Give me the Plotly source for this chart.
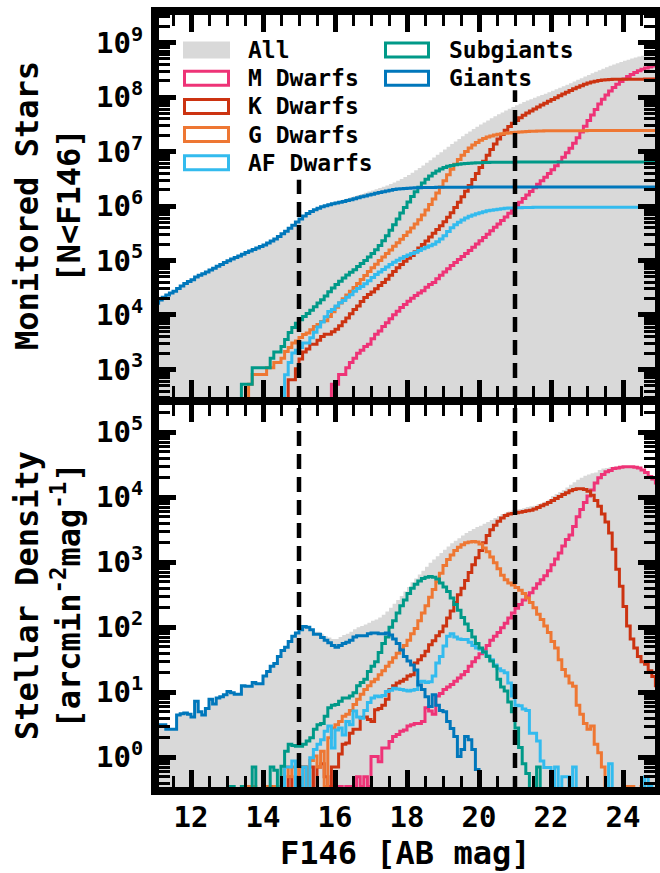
import numpy as np
import plotly.graph_objects as go

# ---------------- data ----------------
BIN_START = 11.0          # first F146 bin edge [AB mag]
BIN_WIDTH = 0.1           # bin width [mag]
N_BINS = 140              # 11.0 ... 25.0
AREA_ARCMIN2 = 7540.0     # survey area used to turn density into star counts
N_BRIGHTER = 1.4e4        # monitored stars brighter than F146 = 11 (all giants)

x_tick_vals = [12, 14, 16, 18, 20, 22, 24]
top_tick_exps = [3, 4, 5, 6, 7, 8, 9]
bot_tick_exps = [0, 1, 2, 3, 4, 5]
mag_cuts = [15, 21]

# log10 stellar density [arcmin^-2 mag^-1] per 0.1-mag bin, None = empty bin
all_start = 11.0
all_log = [
    0.50, 0.50, 0.50, 0.43, 0.43, 0.43, 0.65, 0.67, 0.68, 0.66,
    0.62, 0.86, 0.70, 0.65, 0.75, 0.89, 0.82, 0.91, 0.93, 0.96,
    1.01, 0.99, 0.97, 0.97, 1.10, 1.09, 1.09, 1.15, 1.13, 1.13,
    1.25, 1.32, 1.40, 1.44, 1.55, 1.65, 1.70, 1.79, 1.88, 1.93,
    1.97, 2.02, 2.01, 1.98, 1.93, 1.93, 1.89, 1.86, 1.84, 1.82,
    1.82, 1.85, 1.88, 1.90, 1.93, 1.97, 2.00, 2.02, 2.04, 2.07,
    2.10, 2.12, 2.15, 2.19, 2.24, 2.30, 2.36, 2.42, 2.48, 2.55,
    2.62, 2.69, 2.75, 2.81, 2.87, 2.93, 2.99, 3.04, 3.09, 3.14,
    3.19, 3.24, 3.29, 3.33, 3.37, 3.41, 3.45, 3.48, 3.51, 3.54,
    3.56, 3.59, 3.62, 3.65, 3.68, 3.71, 3.74, 3.76, 3.78, 3.80,
    3.81, 3.82, 3.83, 3.85, 3.86, 3.87, 3.89, 3.91, 3.93, 3.96,
    4.02, 4.05, 4.08, 4.11, 4.15, 4.19, 4.23, 4.27, 4.30, 4.33,
    4.35, 4.37, 4.38, 4.42, 4.44, 4.45, 4.46, 4.47, 4.47, 4.47,
    4.48, 4.48, 4.48, 4.47, 4.46, 4.43, 4.39, 4.33, 4.29, 4.23,
]

m_start = 15.8
m_log = [
    -0.45, -0.45,
    None, -0.45, None, -0.45, -0.45, -0.45, -0.30, -0.45, -0.30, -0.45,
    0.01, 0.01, -0.07, 0.14, 0.14, 0.24, 0.32, 0.35, 0.40, 0.42,
    0.48, 0.50, 0.52, 0.52, 0.55, 0.76, 0.71, 0.66, 0.94, 0.98,
    1.04, 1.08, 1.12, 1.17, 1.22, 1.27, 1.32, 1.40, 1.47, 1.53,
    1.59, 1.65, 1.72, 1.80, 1.86, 1.92, 1.99, 2.06, 2.14, 2.22,
    2.29, 2.35, 2.42, 2.48, 2.53, 2.60, 2.67, 2.73, 2.79, 2.87,
    2.96, 3.05, 3.14, 3.25, 3.35, 3.42, 3.55, 3.70, 3.81, 3.92,
    4.02, 4.11, 4.22, 4.30, 4.35, 4.39, 4.41, 4.44, 4.45, 4.46,
    4.47, 4.47, 4.47, 4.46, 4.45, 4.42, 4.38, 4.32, 4.28, 4.22,
]

k_start = 14.2
k_log = [
    -0.45, None, None, None, None, -0.30, None, -0.30,
    -0.15, -0.15, -0.45, -0.15, None, -0.15, -0.10, -0.30, None, -0.15,
    -0.15, 0.05, 0.20, 0.22, 0.37, 0.43, 0.43, 0.61, 0.62, 0.58,
    0.55, 0.73, 0.75, 0.80, 0.89, 1.04, 1.10, 1.14, 1.17, 1.20,
    1.25, 1.27, 1.45, 1.50, 1.56, 1.63, 1.73, 1.79, 1.87, 1.93,
    2.02, 2.14, 2.25, 2.38, 2.50, 2.60, 2.72, 2.84, 2.96, 3.07,
    3.18, 3.30, 3.41, 3.50, 3.57, 3.63, 3.68, 3.72, 3.74, 3.75,
    3.76, 3.77, 3.78, 3.79, 3.80, 3.82, 3.84, 3.87, 3.89, 3.92,
    3.95, 3.98, 4.01, 4.04, 4.07, 4.10, 4.12, 4.13, 4.13, 4.12,
    4.09, 4.03, 3.95, 3.86, 3.74, 3.62, 3.45, 3.20, 2.89, 2.63,
    2.32, 2.02, 1.82, 1.68, 1.55, 1.47, 1.43, 1.33, 1.24, 1.10,
]

g_start = 13.4
g_log = [
    -0.45, None, -0.45, -0.45, None, None,
    None, -0.45, None, -0.45, None, -0.45, -0.15, -0.30, -0.15, -0.45,
    -0.15, -0.15, -0.45, -0.05, 0.02, -0.15, 0.09, -0.45, 0.30, 0.45,
    0.50, 0.55, 0.63, 0.66, 0.72, 0.81, 0.89, 0.97, 1.04, 1.10,
    1.16, 1.20, 1.27, 1.33, 1.40, 1.46, 1.53, 1.60, 1.66, 1.72,
    1.80, 1.90, 1.98, 2.10, 2.22, 2.33, 2.46, 2.58, 2.70, 2.83,
    2.95, 3.04, 3.11, 3.18, 3.23, 3.27, 3.30, 3.31, 3.32, 3.31,
    3.28, 3.22, 3.16, 3.08, 2.99, 2.90, 2.80, 2.73, 2.68, 2.65,
    2.61, 2.57, 2.52, 2.45, 2.38, 2.30, 2.20, 2.12, 2.02, 1.92,
    1.78, 1.68, 1.50, 1.35, 1.25, 1.14, 1.09, 0.80, 0.66, 0.52,
    0.43, 0.48, 0.20, 0.07, -0.15, None, None, None, None, None,
    -0.45, -0.45, -0.45, None, None, -0.45,
]

af_start = 14.5
af_log = [
    -0.45, -0.15, -0.15, -0.06, -0.45,
    -0.45, -0.15, None, -0.01, 0.12, 0.20, 0.27, 0.40, 0.48, 0.14,
    0.42, 0.45, 0.34, 0.55, 0.50, 0.71, 0.62, 0.60, 0.72, 0.84,
    0.91, 0.94, 0.93, 0.95, 1.01, 1.03, 1.06, 1.05, 1.04, 1.03,
    1.02, 1.03, 1.04, 1.16, 1.17, 1.15, 1.16, 1.25, 1.45, 1.55,
    1.71, 1.86, 1.90, 1.85, 1.82, 1.81, 1.81, 1.77, 1.72, 1.68,
    1.66, 1.62, 1.56, 1.50, 1.42, 1.36, 1.33, 1.30, 1.14, 0.94,
    0.80, 0.79, 0.74, 0.72, 0.37, 0.37, 0.25, -0.06, -0.16, -0.16,
    None, -0.15, None, -0.30, -0.30, None, -0.15, None, None, None,
    None, None, None, None, None, None, -0.10, None, None, None,
    None, None, None, None, None, None, -0.30, -0.45,
]

subgiants_start = 13.1
subgiants_log = [
    -0.45, None, None, -0.45, None, None, -0.15, None, None,
    None, None, -0.15, -0.20, None, -0.14, 0.09, 0.20, 0.18, 0.17,
    0.17, 0.20, 0.25, 0.30, 0.43, 0.50, 0.52, 0.63, 0.76, 0.80,
    0.81, 0.86, 0.91, 0.91, 0.94, 0.99, 1.10, 1.15, 1.20, 1.32,
    1.40, 1.47, 1.61, 1.75, 1.85, 2.00, 2.10, 2.22, 2.33, 2.42,
    2.52, 2.60, 2.66, 2.71, 2.75, 2.77, 2.78, 2.77, 2.74, 2.68,
    2.62, 2.55, 2.45, 2.35, 2.26, 2.15, 2.05, 1.95, 1.85, 1.75,
    1.68, 1.62, 1.55, 1.48, 1.40, 1.20, 1.08, 1.02, 0.85, 0.70,
    0.45, 0.15, -0.10, -0.25, None, None, -0.15,
]

giants_start = 11.0
giants_log = [
    0.50, 0.50, 0.50, 0.43, 0.43, 0.43, 0.65, 0.67, 0.68, 0.66,
    0.62, 0.86, 0.70, 0.65, 0.75, 0.89, 0.82, 0.91, 0.93, 0.96,
    1.01, 0.99, 0.97, 0.97, 1.10, 1.09, 1.09, 1.15, 1.13, 1.13,
    1.25, 1.32, 1.40, 1.44, 1.55, 1.64, 1.69, 1.78, 1.86, 1.91,
    1.96, 2.01, 2.00, 1.96, 1.89, 1.89, 1.84, 1.80, 1.76, 1.72,
    1.69, 1.72, 1.75, 1.77, 1.80, 1.85, 1.87, 1.87, 1.87, 1.90,
    1.91, 1.91, 1.90, 1.90, 1.91, 1.88, 1.82, 1.75, 1.65, 1.55,
    1.48, 1.42, 1.34, 1.11, 1.04, 0.93, 0.78, 0.96, 0.80, 0.72,
    0.70, 0.55, 0.44, 0.32, 0.01, 0.12, 0.32, 0.27, 0.12, -0.19,
]

line_series = [
    ("M Dwarfs", m_start, m_log, "#EE3377", 0.0),
    ("K Dwarfs", k_start, k_log, "#CC3311", 0.0),
    ("G Dwarfs", g_start, g_log, "#EE7733", 0.0),
    ("AF Dwarfs", af_start, af_log, "#33BBEE", 0.0),
    ("Subgiants", subgiants_start, subgiants_log, "#009988", 0.0),
    ("Giants", giants_start, giants_log, "#0077BB", N_BRIGHTER),
]
ALL_COLOR = "#D9D9D9"

# ---------------- helpers ----------------
edges = BIN_START + BIN_WIDTH * np.arange(N_BINS + 1)


def density(start, logs):
    arr = np.zeros(N_BINS)
    i0 = int(round((start - BIN_START) / BIN_WIDTH))
    for k, v in enumerate(logs):
        if v is not None:
            arr[i0 + k] = 10.0 ** v
    return arr


def cumulative(dens, offset):
    return offset + AREA_ARCMIN2 * BIN_WIDTH * np.cumsum(dens)


def step_y(vals, floor):
    v = np.where(vals > 0, vals, floor)
    return np.append(v, v[-1])


FLOOR_BOT = 1e-3
FLOOR_TOP = 1.0

W, H = 660, 873
L, R, T, B = 155, 659, 11, 791
FONT = "DejaVu Sans Mono"
TICK_SIZE = 29
TITLE_SIZE = 32
LEG_SIZE = 23
FRAME_W = 8


def px(x):
    return (x - L) / (R - L)


def py(y):
    return (B - y) / (B - T)


fig = go.Figure()

# "All" filled histograms
all_d = density(all_start, all_log)
for dvals, xa, ya, floor in [
    (all_d, "x", "y", FLOOR_BOT),
    (cumulative(all_d, N_BRIGHTER), "x2", "y2", FLOOR_TOP),
]:
    ys = step_y(dvals, floor)
    fig.add_trace(go.Scatter(
        x=np.concatenate([edges, [edges[-1], edges[0]]]),
        y=np.concatenate([ys, [floor, floor]]),
        mode="lines", line=dict(width=0, shape="hv", color=ALL_COLOR),
        fill="toself", fillcolor=ALL_COLOR, xaxis=xa, yaxis=ya,
        showlegend=False, hoverinfo="skip"))

for name, start, logs, color, off in line_series:
    d = density(start, logs)
    fig.add_trace(go.Scatter(x=edges, y=step_y(d, FLOOR_BOT), mode="lines",
                             line=dict(color=color, width=3, shape="hv"),
                             xaxis="x", yaxis="y", name=name, showlegend=False))
    c = cumulative(d, off)
    fig.add_trace(go.Scatter(x=edges, y=step_y(c, FLOOR_TOP), mode="lines",
                             line=dict(color=color, width=3, shape="hv"),
                             xaxis="x2", yaxis="y2", name=name, showlegend=False))

shapes = []
# dashed magnitude cuts
top_stop = {15: 0.567, 21: 0.797}
for m in mag_cuts:
    shapes.append(dict(type="line", xref="x", yref="y domain", x0=m, x1=m, y0=0, y1=1,
                       line=dict(color="black", width=4.5, dash="15px,8px"), layer="above"))
    shapes.append(dict(type="line", xref="x2", yref="y2 domain", x0=m, x1=m, y0=0, y1=top_stop[m],
                       line=dict(color="black", width=4.5, dash="15px,8px"), layer="above"))
# thick frames
for y0, y1 in [(0, 0.5), (0.5, 1)]:
    shapes.append(dict(type="rect", xref="paper", yref="paper", x0=0, x1=1, y0=y0, y1=y1,
                       line=dict(color="black", width=FRAME_W), fillcolor="rgba(0,0,0,0)",
                       layer="above"))

# custom legend
annotations = []
leg_items = [
    ("All", ALL_COLOR, True, 183, 230, 246, 50),
    ("M Dwarfs", "#EE3377", False, 183, 230, 246, 78.2),
    ("K Dwarfs", "#CC3311", False, 183, 230, 246, 106.4),
    ("G Dwarfs", "#EE7733", False, 183, 230, 246, 134.6),
    ("AF Dwarfs", "#33BBEE", False, 183, 230, 246, 162.8),
    ("Subgiants", "#009988", False, 384, 430, 447, 50),
    ("Giants", "#0077BB", False, 384, 430, 447, 78.2),
]
for text, col, filled, x0, x1, xt, yc in leg_items:
    if filled:
        shapes.append(dict(type="rect", xref="paper", yref="paper", x0=px(x0), x1=px(x1),
                           y0=py(yc + 8.5), y1=py(yc - 8.5), line=dict(width=0),
                           fillcolor=col, layer="above"))
    else:
        shapes.append(dict(type="rect", xref="paper", yref="paper", x0=px(x0 + 1.5), x1=px(x1 - 1.5),
                           y0=py(yc + 7), y1=py(yc - 7), line=dict(width=3, color=col),
                           fillcolor="rgba(0,0,0,0)", layer="above"))
    annotations.append(dict(text=text, xref="paper", yref="paper", x=px(xt), y=py(yc),
                            xanchor="left", yanchor="middle", showarrow=False,
                            font=dict(size=LEG_SIZE, family=FONT, weight="bold", color="black")))

# axis titles
annotations.append(dict(text="Monitored Stars<br>[N&lt;F146]", xref="paper", yref="paper",
                        x=px(48), y=py(206), textangle=-90, showarrow=False,
                        xanchor="center", yanchor="middle",
                        font=dict(size=TITLE_SIZE, family=FONT, weight="bold", color="black")))
annotations.append(dict(text="Stellar Density<br>[arcmin<sup>-2</sup>mag<sup>-1</sup>]",
                        xref="paper", yref="paper", x=px(48), y=py(596), textangle=-90,
                        showarrow=False, xanchor="center", yanchor="middle",
                        font=dict(size=TITLE_SIZE, family=FONT, weight="bold", color="black")))
annotations.append(dict(text="F146 [AB mag]", xref="paper", yref="paper", x=px(405), y=py(853),
                        showarrow=False, xanchor="center", yanchor="middle",
                        font=dict(size=TITLE_SIZE, family=FONT, weight="bold", color="black")))

xcommon = dict(range=[BIN_START, BIN_START + BIN_WIDTH * N_BINS], tickmode="array",
               tickvals=x_tick_vals, ticks="inside", ticklen=21, tickwidth=5, tickcolor="black",
               minor=dict(tickmode="linear", tick0=0, dtick=0.5, ticks="inside", ticklen=15,
                          tickwidth=2.7, tickcolor="black", showgrid=False),
               showgrid=False, zeroline=False, showline=True, linecolor="black", linewidth=1,
               mirror="ticks",
               tickfont=dict(size=TICK_SIZE, family=FONT, weight="bold", color="black"))


def ycommon(exps, rng):
    lo, hi = int(np.floor(rng[0])), int(np.ceil(rng[1]))
    return dict(type="log", range=rng, tickmode="array",
                tickvals=[10.0 ** e for e in exps],
                ticktext=["10<sup>%d</sup>" % e for e in exps],
                ticks="inside", ticklen=21, tickwidth=5, tickcolor="black",
                minor=dict(tickmode="array",
                           tickvals=[k * 10.0 ** e for e in range(lo, hi) for k in range(2, 10)],
                           ticks="inside", ticklen=15, tickwidth=2.7, tickcolor="black",
                           showgrid=False),
                showgrid=False, zeroline=False, showline=True, linecolor="black", linewidth=1,
                mirror="ticks", ticklabelstandoff=5,
                tickfont=dict(size=TICK_SIZE, family=FONT, weight="bold", color="black"))


fig.update_layout(
    width=W, height=H,
    margin=dict(l=L, r=W - R, t=T, b=H - B),
    paper_bgcolor="white", plot_bgcolor="white",
    font=dict(family=FONT, weight="bold", color="black"),
    xaxis=dict(anchor="y", domain=[0, 1], **xcommon),
    xaxis2=dict(anchor="y2", domain=[0, 1], matches="x", showticklabels=False,
                **{k: v for k, v in xcommon.items() if k != "range"}),
    yaxis=dict(anchor="x", domain=[0, 0.5], **ycommon(bot_tick_exps, [-0.52, 5.48])),
    yaxis2=dict(anchor="x2", domain=[0.5, 1], **ycommon(top_tick_exps, [2.42, 9.58])),
    shapes=shapes, annotations=annotations, showlegend=False,
)

fig.write_html("out.html", config={"displayModeBar": False},
               post_script="document.body.style.margin='0px';document.body.style.overflow='hidden';")
